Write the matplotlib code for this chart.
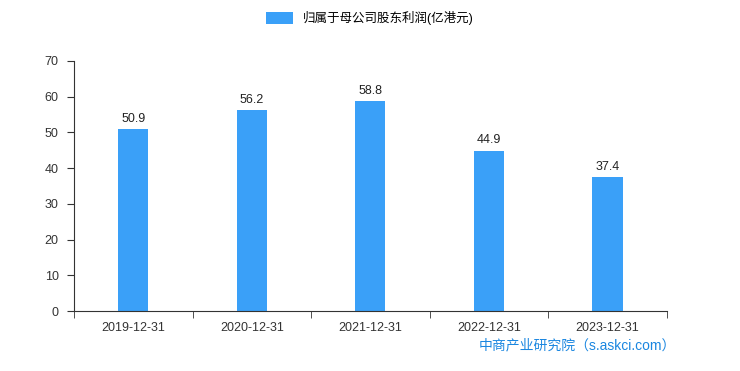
import matplotlib.pyplot as plt
import numpy as np

plt.rcParams['font.family'] = ['Liberation Sans', 'Noto Sans CJK SC', 'DejaVu Sans']

dates = ['2019-12-31', '2020-12-31', '2021-12-31', '2022-12-31', '2023-12-31']
profit = [50.9, 56.2, 58.8, 44.9, 37.4]
series_name = '归属于母公司股东利润(亿港元)'
yticks = [0, 10, 20, 30, 40, 50, 60, 70]

bar_color = '#3aa0f8'
axis_color = '#333333'

fig = plt.figure(figsize=(7.4, 3.71), dpi=100)
ax = fig.add_axes([0.1, 0.1617, 0.801, 0.674])

x = np.arange(len(dates))
bars = ax.bar(x, profit, width=0.255, color=bar_color, label=series_name)
for xi, v in zip(x, profit):
    ax.text(xi, v + 1.2, f'{v}', ha='center', va='bottom', fontsize=9, color='#222222')

ax.set_xlim(-0.5, len(dates) - 0.5)
ax.set_ylim(0, 70)
ax.set_yticks(yticks)
ax.set_xticks(x)
ax.set_xticklabels(dates)
ax.set_xticks(np.arange(-0.5, len(dates)), minor=True)
ax.tick_params(axis='x', which='major', length=0, pad=8, labelsize=9, colors=axis_color)
ax.tick_params(axis='x', which='minor', length=5, color=axis_color)
ax.tick_params(axis='y', length=5, labelsize=9, colors=axis_color, pad=6)

for s in ['top', 'right']:
    ax.spines[s].set_visible(False)
ax.spines['left'].set_color(axis_color)
ax.spines['bottom'].set_color(axis_color)

fig.legend(handles=[bars], labels=[series_name], loc='upper center',
           bbox_to_anchor=(0.5, 1.0), frameon=False, fontsize=9,
           handlelength=2.2, handleheight=1.0)

fig.text(0.913, 0.07, '中商产业研究院（s.askci.com）', ha='right', va='center',
         fontsize=10, color='#1a86e0')

fig.savefig('out.png', dpi=100)
